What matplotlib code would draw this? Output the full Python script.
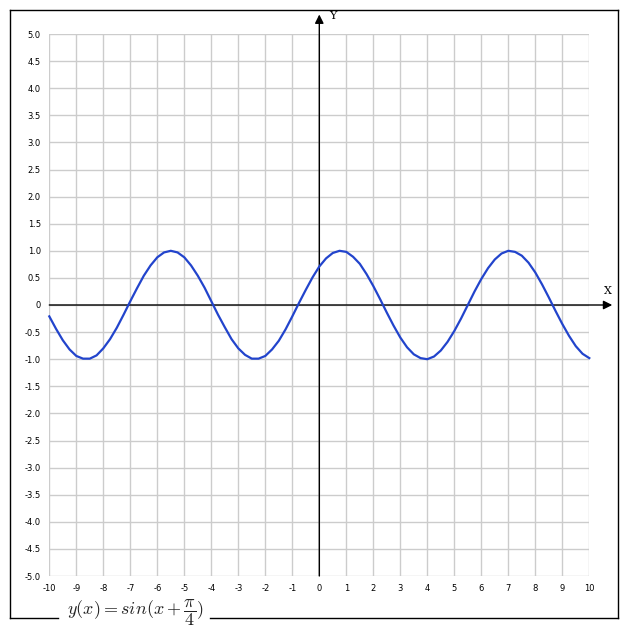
import matplotlib
matplotlib.use('Agg')
import matplotlib.pyplot as plt
from matplotlib.lines import Line2D

x_vals = [-10 + 0.25 * i for i in range(81)]
y_vals = [-0.21, -0.44, -0.65, -0.82, -0.94, -0.99, -0.99, -0.93, -0.80, -0.63,
          -0.42, -0.18, 0.07, 0.31, 0.54, 0.73, 0.88, 0.97, 1.00, 0.97,
          0.88, 0.73, 0.54, 0.32, 0.07, -0.18, -0.41, -0.63, -0.80, -0.92,
          -0.99, -0.99, -0.94, -0.82, -0.66, -0.45, -0.21, 0.04, 0.28, 0.51,
          0.71, 0.86, 0.96, 1.00, 0.98, 0.89, 0.76, 0.57, 0.35, 0.11,
          -0.14, -0.38, -0.60, -0.78, -0.91, -0.98, -1.00, -0.95, -0.84, -0.68,
          -0.48, -0.25, 0.00, 0.25, 0.48, 0.68, 0.84, 0.95, 1.00, 0.98,
          0.91, 0.78, 0.60, 0.38, 0.14, -0.11, -0.35, -0.57, -0.76, -0.90,
          -0.98]

x_ticks = list(range(-10, 11))
y_ticks = [-5.0 + 0.5 * i for i in range(21)]
y_tick_labels = ['0' if abs(v) < 1e-9 else '%.1f' % v for v in y_ticks]

W, H = 627, 630
plt.rcParams['mathtext.fontset'] = 'cm'
fig = plt.figure(figsize=(W / 100, H / 100), dpi=100)
fig.patch.set_facecolor('white')

ax = fig.add_axes([49.3 / W, 1 - 576 / H, 540 / W, 542 / H])
ax.set_xlim(-10, 10)
ax.set_ylim(-5, 5)
for s in ax.spines.values():
    s.set_visible(False)

for v in x_ticks:
    ax.axvline(v, color='#cccccc', lw=1.0, zorder=1)
for v in y_ticks:
    ax.axhline(v, color='#cccccc', lw=1.0, zorder=1)

ax.set_xticks(x_ticks)
ax.set_xticklabels([str(v) for v in x_ticks], fontsize=6, family='DejaVu Sans')
ax.set_yticks(y_ticks)
ax.set_yticklabels(y_tick_labels, fontsize=6, family='DejaVu Sans')
ax.tick_params(length=0, pad=6)

# axes with arrows
ax.annotate('', xy=(10.85, 0), xytext=(-10, 0),
            arrowprops=dict(arrowstyle='-|>', color='black', lw=1.0,
                            mutation_scale=13, shrinkA=0, shrinkB=0),
            annotation_clip=False, zorder=3)
ax.annotate('', xy=(0, 5.36), xytext=(0, -5),
            arrowprops=dict(arrowstyle='-|>', color='black', lw=1.0,
                            mutation_scale=13, shrinkA=0, shrinkB=0),
            annotation_clip=False, zorder=3)

ax.plot(x_vals, y_vals, color='#2244cc', lw=1.6, zorder=4, clip_on=False,
        solid_joinstyle='round')

fig.text(607.5 / W, 1 - 291 / H, 'X', fontsize=8, family='DejaVu Serif',
         ha='center', va='center')
fig.text(333 / W, 1 - 16 / H, 'Y', fontsize=8, family='DejaVu Serif',
         ha='center', va='center')

# outer frame with a gap for the caption
def fline(x0, y0, x1, y1):
    fig.add_artist(Line2D([x0 / W, x1 / W], [1 - y0 / H, 1 - y1 / H],
                          transform=fig.transFigure, color='black', lw=1.0))

fline(9.5, 9.5, 618, 9.5)
fline(9.5, 9.5, 9.5, 618)
fline(618, 9.5, 618, 618)
fline(9.5, 618, 58, 618)
fline(210, 618, 618, 618)

fig.text(135 / W, 1 - 613 / H, r'$y(x) = sin(x + \dfrac{\pi}{4})$',
         fontsize=13, ha='center', va='center', color='#222222')

fig.savefig('out.png', dpi=100)
